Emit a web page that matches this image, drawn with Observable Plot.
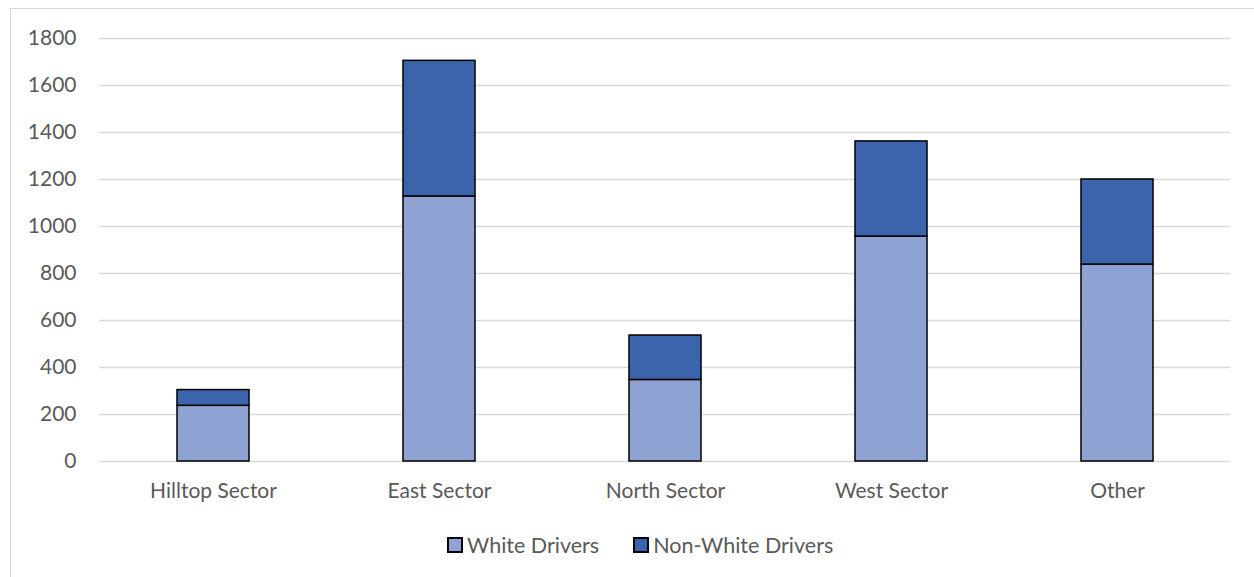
<!DOCTYPE html>
<html>
<head>
<meta charset="utf-8">
<script src="https://cdn.jsdelivr.net/npm/d3@7"></script>
<script src="https://cdn.jsdelivr.net/npm/@observablehq/plot@0.6"></script>
<style>
  body { margin: 0; background: #fff; font-family: Lato, sans-serif; overflow: hidden; }
  #frame { position: absolute; left: 10px; top: 8px; width: 1270px; height: 600px; border: 1px solid #d9d9d9; background:#fff; }
  #chart { position: absolute; left: 0; top: 0; }
  #chart svg text { font-size: 21px; fill: #595959; font-family: Lato, sans-serif; }
  #legend { position: absolute; left: 436px; top: 536px; height: 0; display: flex; align-items: center; font-size: 21.5px; color: #595959; white-space: nowrap; }
  .item { display: flex; align-items: center; margin-right: 34px; }
  .sw { width: 12px; height: 12px; border: 2px solid #000; margin-right: 4px; }
</style>
</head>
<body>
<div id="frame">
  <div id="chart"></div>
  <div id="legend"></div>
</div>
<script>
const categories = ["Hilltop Sector", "East Sector", "North Sector", "West Sector", "Other"];
const whiteDrivers = [237, 1128, 347, 957, 838];
const nonWhiteDrivers = [67, 577, 189, 405, 362];
const seriesNames = ["White Drivers", "Non-White Drivers"];
const seriesColors = ["#8fa2d4", "#3b64ad"];
const yTicks = [0, 200, 400, 600, 800, 1000, 1200, 1400, 1600, 1800];

const rows = [];
categories.forEach((c, i) => {
  rows.push({category: c, series: seriesNames[0], value: whiteDrivers[i]});
  rows.push({category: c, series: seriesNames[1], value: nonWhiteDrivers[i]});
});

const plot = Plot.plot({
  width: 1240,
  height: 500,
  marginLeft: 88,
  marginRight: 21,
  marginTop: 29,
  marginBottom: 48,
  style: { fontFamily: "Lato, sans-serif", fontSize: "21px", color: "#595959", background: "transparent", overflow: "visible" },
  x: { domain: categories, paddingInner: 0.683, paddingOuter: 0.3415, label: null },
  y: { domain: [0, 1800], ticks: yTicks, label: null },
  color: { domain: seriesNames, range: seriesColors },
  marks: [
    Plot.gridY(yTicks, { stroke: "#d9d9d9", strokeOpacity: 1, strokeWidth: 1.3 }),
    Plot.barY(rows, { x: "category", y: "value", fill: "series", stroke: "#000", strokeWidth: 1.5, order: seriesNames }),
    Plot.axisY({ ticks: yTicks, tickFormat: d3.format("d"), tickSize: 0, tickPadding: 23, label: null }),
    Plot.axisX({ tickSize: 0, tickPadding: 22, label: null })
  ]
});
document.getElementById("chart").appendChild(plot);

const legend = document.getElementById("legend");
seriesNames.forEach((s, i) => {
  const it = document.createElement("div");
  it.className = "item";
  const sw = document.createElement("div");
  sw.className = "sw";
  sw.style.background = seriesColors[i];
  const t = document.createElement("span");
  t.textContent = s;
  it.appendChild(sw); it.appendChild(t);
  legend.appendChild(it);
});
</script>
</body>
</html>
